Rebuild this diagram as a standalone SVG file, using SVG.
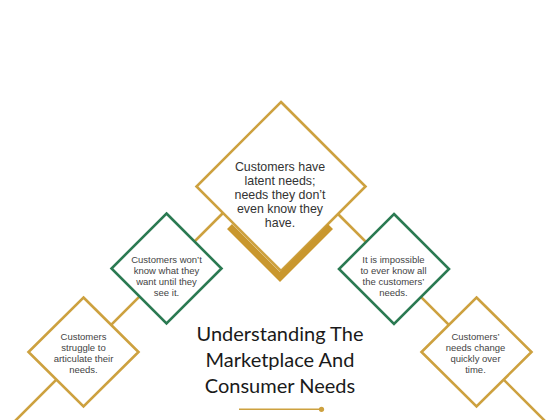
<svg xmlns="http://www.w3.org/2000/svg" width="560" height="420" viewBox="0 0 560 420">
<style>
.gold{fill:#fff;stroke:#CDA13F;stroke-width:2.6}
.green{fill:#fff;stroke:#2B7A52;stroke-width:2.6}
.conn{stroke:#CDA13F;stroke-width:2.6;fill:none}
.t{font-family:"Liberation Sans",Arial,sans-serif;fill:#3a3a3a;text-anchor:middle}
.big{font-size:12.4px;fill:#333}
.sm{font-size:9.5px;fill:#444}
.title{font-family:Lato,"Open Sans",sans-serif;font-size:20px;fill:#1a1a1a;text-anchor:middle}
</style>
<rect width="560" height="420" fill="#fff"/>
<g id="connectors">
<line class="conn" x1="223" y1="213" x2="-7" y2="443"/>
<line class="conn" x1="338" y1="214" x2="567" y2="443"/>
</g>
<g id="node-top">
<polygon class="gold" points="281,102 365.5,186.5 281,271 196.5,186.5"/>
<polygon fill="#C9972E" points="232,224 280,272 328,224 333,229 280,282 227,229"/>
<text class="t big"><tspan x="280" y="170.5">Customers have</tspan><tspan x="280" y="184.5">latent needs;</tspan><tspan x="280" y="198.5">needs they don’t</tspan><tspan x="280" y="212.5">even know they</tspan><tspan x="280" y="226.5">have.</tspan></text>
</g>
<g id="node-left-green">
<polygon class="green" points="166.5,213.5 221.5,268.5 166.5,323.5 111.5,268.5"/>
<text class="t sm"><tspan x="166.5" y="262.5">Customers won’t</tspan><tspan x="166.5" y="273.5">know what they</tspan><tspan x="166.5" y="284.5">want until they</tspan><tspan x="166.5" y="295.5">see it.</tspan></text>
</g>
<g id="node-left-gold">
<polygon class="gold" points="83.5,297.5 138.5,352 83.5,406.5 28.5,352"/>
<text class="t sm"><tspan x="83.5" y="340">Customers</tspan><tspan x="83.5" y="351">struggle to</tspan><tspan x="83.5" y="362">articulate their</tspan><tspan x="83.5" y="373">needs.</tspan></text>
</g>
<g id="node-right-green">
<polygon class="green" points="394,214 449,269 394,324 339,269"/>
<text class="t sm"><tspan x="393.5" y="263">It is impossible</tspan><tspan x="393.5" y="274">to ever know all</tspan><tspan x="393.5" y="285">the customers’</tspan><tspan x="393.5" y="296">needs.</tspan></text>
</g>
<g id="node-right-gold">
<polygon class="gold" points="476.5,297.5 531.5,352 476.5,406.5 421.5,352"/>
<text class="t sm"><tspan x="475.5" y="339.5">Customers’</tspan><tspan x="475.5" y="350.5">needs change</tspan><tspan x="475.5" y="361.5">quickly over</tspan><tspan x="475.5" y="372.5">time.</tspan></text>
</g>
<g id="title">
<text class="title"><tspan x="280" y="341">Understanding The</tspan><tspan x="280" y="367">Marketplace And</tspan><tspan x="280" y="393">Consumer Needs</tspan></text>
<line x1="239" y1="409.3" x2="321" y2="409.3" stroke="#CDA13F" stroke-width="1.6"/>
<circle cx="321.5" cy="409.3" r="2.6" fill="#CDA13F"/>
</g>
</svg>
